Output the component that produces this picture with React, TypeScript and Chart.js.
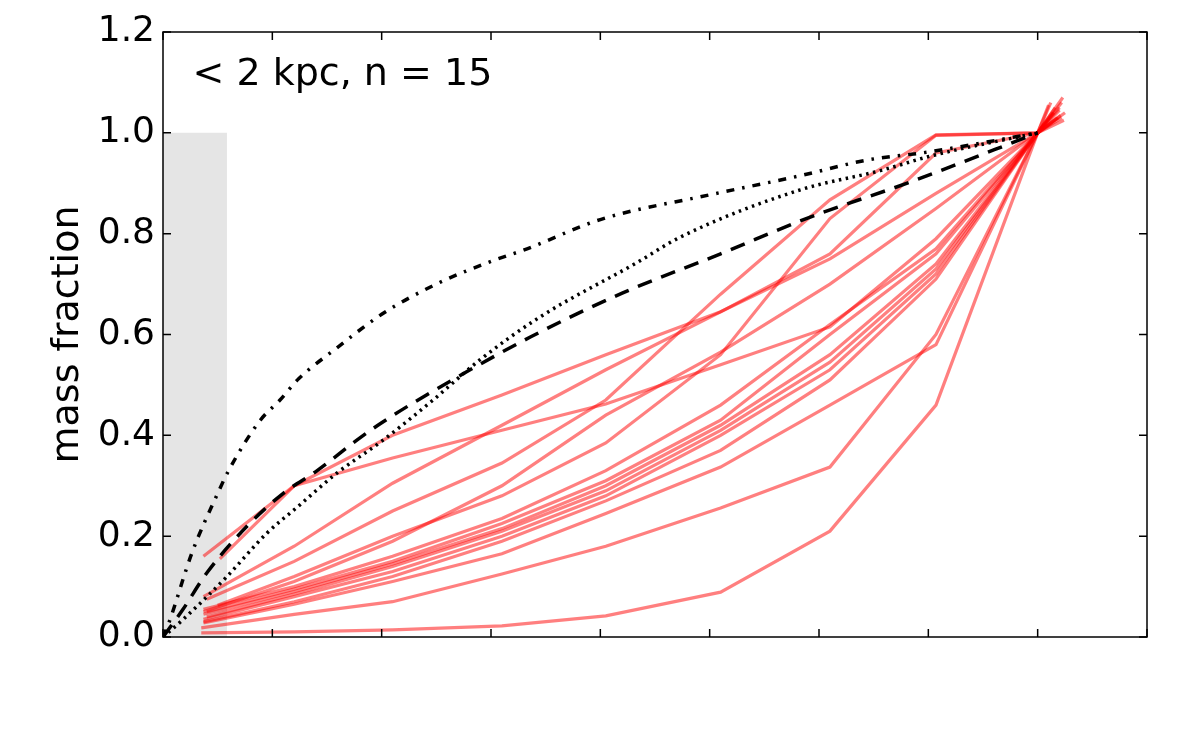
import React, { useEffect, useRef } from 'react';
import { Chart, registerables } from 'chart.js';

Chart.register(...registerables);

// axis ticks (x has ticks but no labels)
const xTicks = [0, 1, 2, 3, 4, 5, 6, 7, 8, 9];
const yTicks = [0, 0.2, 0.4, 0.6, 0.8, 1.0, 1.2];

// shaded inner region
const bandR = [0, 0.585];
const bandTop = 1.0;

// red galaxy profiles: first radius, shared inner radii, last radius
const startR = [0.37, 0.52, 0.37, 0.4, 0.5, 0.37, 0.37, 0.4, 0.37, 0.4, 0.37, 0.37, 0.37, 0.35, 0.35];
const innerR = [1.2, 2.1, 3.1, 4.05, 5.1, 6.1, 7.07, 8.0];
const endR = [8.2, 8.15, 8.23, 8.22, 8.1, 8.25, 8.18, 8.2, 8.12, 8.24, 8.16, 8.21, 8.19, 8.14, 8.22];

const massFrac: number[][] = [
    [0.16, 0.30, 0.355, 0.41, 0.462, 0.54, 0.615, 0.79, 1.0, 1.05],
    [0.155, 0.30, 0.40, 0.48, 0.56, 0.645, 0.75, 0.88, 1.0, 1.04],
    [0.08, 0.18, 0.305, 0.42, 0.53, 0.645, 0.76, 0.96, 1.0, 1.07],
    [0.075, 0.15, 0.25, 0.345, 0.47, 0.68, 0.867, 0.996, 1.0, 1.06],
    [0.063, 0.12, 0.20, 0.28, 0.385, 0.56, 0.83, 0.995, 1.0, 1.055],
    [0.05, 0.11, 0.19, 0.30, 0.44, 0.565, 0.70, 0.85, 1.0, 1.04],
    [0.055, 0.10, 0.16, 0.235, 0.33, 0.46, 0.62, 0.77, 1.0, 1.03],
    [0.05, 0.095, 0.15, 0.225, 0.31, 0.43, 0.60, 0.76, 1.0, 1.045],
    [0.045, 0.09, 0.145, 0.215, 0.30, 0.42, 0.56, 0.74, 1.0, 1.06],
    [0.04, 0.085, 0.14, 0.21, 0.29, 0.41, 0.545, 0.73, 1.0, 1.025],
    [0.035, 0.08, 0.13, 0.20, 0.28, 0.40, 0.53, 0.72, 1.0, 1.05],
    [0.03, 0.07, 0.12, 0.19, 0.27, 0.37, 0.51, 0.71, 1.0, 1.035],
    [0.028, 0.065, 0.11, 0.165, 0.245, 0.337, 0.46, 0.58, 1.0, 1.03],
    [0.018, 0.045, 0.07, 0.125, 0.18, 0.256, 0.337, 0.60, 1.0, 1.04],
    [0.008, 0.01, 0.014, 0.022, 0.042, 0.089, 0.21, 0.46, 1.0, 1.03],
];

// black model curves
const dashDotR = [0, 0.04, 0.27, 0.49, 0.6, 0.89, 1.07, 1.23, 1.6, 2.0, 2.5, 3.0, 3.33, 4.0, 5.0, 5.83, 6.44, 7.0, 8.0];
const dashDotF = [0, 0.02, 0.17, 0.28, 0.33, 0.43, 0.47, 0.51, 0.575, 0.64, 0.70, 0.745, 0.77, 0.828, 0.877, 0.915, 0.946, 0.962, 1.0];
const dashedR = [0, 0.18, 0.4, 0.77, 1.1, 1.41, 1.77, 2.0, 2.41, 3.36, 4.2, 5.1, 5.92, 6.83, 8.0];
const dashedF = [0, 0.054, 0.127, 0.22, 0.285, 0.33, 0.39, 0.425, 0.48, 0.595, 0.682, 0.76, 0.833, 0.902, 1.0];
const dottedR = [0, 0.18, 0.585, 0.95, 1.23, 1.59, 2.01, 2.47, 2.9, 3.45, 4.33, 4.73, 5.83, 6.56, 7.04, 8.0];
const dottedF = [0, 0.034, 0.12, 0.206, 0.258, 0.325, 0.39, 0.47, 0.55, 0.635, 0.742, 0.793, 0.887, 0.925, 0.955, 1.0];

const label = '< 2 kpc, n = 15';
const FONT = '"DejaVu Sans", sans-serif';

const toPoints = (xs: number[], ys: number[]) => xs.map((x, i) => ({ x, y: ys[i] }));

const framePlugin = {
    id: 'frame',
    afterDatasetsDraw(chart: any) {
        const { ctx, chartArea: a, scales } = chart;
        ctx.save();
        ctx.strokeStyle = '#000';
        ctx.lineWidth = 1.5;
        ctx.strokeRect(a.left, a.top, a.right - a.left, a.bottom - a.top);
        const len = 8;
        ctx.beginPath();
        scales.x.ticks.forEach((t: any) => {
            const px = scales.x.getPixelForValue(t.value);
            ctx.moveTo(px, a.bottom);
            ctx.lineTo(px, a.bottom - len);
            ctx.moveTo(px, a.top);
            ctx.lineTo(px, a.top + len);
        });
        scales.y.ticks.forEach((t: any) => {
            const py = scales.y.getPixelForValue(t.value);
            ctx.moveTo(a.left, py);
            ctx.lineTo(a.left + len, py);
            ctx.moveTo(a.right, py);
            ctx.lineTo(a.right - len, py);
        });
        ctx.stroke();
        ctx.fillStyle = '#000';
        ctx.font = '38px ' + FONT;
        ctx.textBaseline = 'alphabetic';
        ctx.fillText(label, a.left + 0.03 * (a.right - a.left), a.top + 53);
        ctx.restore();
    },
};

const MassFractionChart: React.FC = () => {
    const chartRef = useRef<HTMLCanvasElement>(null);
    const chartInstanceRef = useRef<Chart | null>(null);

    useEffect(() => {
        if (!chartRef.current) return;
        const ctx = chartRef.current.getContext('2d');
        if (!ctx) return;
        if (chartInstanceRef.current) chartInstanceRef.current.destroy();

        const model = (xs: number[], ys: number[], dash: number[]) => ({
            data: toPoints(xs, ys),
            showLine: true,
            borderColor: '#000',
            borderWidth: 3.5,
            borderDash: dash,
            pointRadius: 0,
            cubicInterpolationMode: 'monotone' as const,
            fill: false,
        });

        const galaxies = massFrac.map((ys, i) => ({
            data: toPoints([startR[i], ...innerR, endR[i]], ys),
            showLine: true,
            borderColor: 'rgba(255, 0, 0, 0.5)',
            borderWidth: 3.2,
            pointRadius: 0,
            tension: 0,
            fill: false,
        }));

        chartInstanceRef.current = new Chart(ctx, {
            type: 'scatter',
            data: {
                datasets: [
                    model(dashDotR, dashDotF, [8, 8, 2.5, 8]),
                    model(dashedR, dashedF, [15, 10]),
                    model(dottedR, dottedF, [2.5, 4.5]),
                    ...galaxies,
                    {
                        data: toPoints(bandR, bandR.map(() => bandTop)),
                        showLine: true,
                        borderWidth: 0,
                        borderColor: 'rgba(0,0,0,0)',
                        backgroundColor: '#e5e5e5',
                        pointRadius: 0,
                        fill: 'origin',
                    },
                ],
            },
            options: {
                responsive: false,
                animation: false,
                events: [],
                layout: { padding: { left: 0, top: 32, right: 49, bottom: 98 } },
                plugins: {
                    legend: { display: false },
                    tooltip: { enabled: false },
                },
                scales: {
                    x: {
                        type: 'linear',
                        min: 0,
                        max: 9,
                        ticks: { display: false },
                        grid: { display: false, drawTicks: false },
                        border: { display: false },
                        afterBuildTicks: (s: any) => {
                            s.ticks = xTicks.map((v) => ({ value: v }));
                        },
                        afterFit: (s: any) => {
                            s.height = 0;
                        },
                    },
                    y: {
                        type: 'linear',
                        min: 0,
                        max: 1.2,
                        ticks: {
                            color: '#000',
                            padding: 8,
                            font: { family: FONT, size: 36 },
                            callback: (v: any) => Number(v).toFixed(1),
                        },
                        grid: { display: false, drawTicks: false },
                        border: { display: false },
                        title: {
                            display: true,
                            text: 'mass fraction',
                            color: '#000',
                            font: { family: FONT, size: 38 },
                            padding: { top: 45, bottom: 0 },
                        },
                        afterBuildTicks: (s: any) => {
                            s.ticks = yTicks.map((v) => ({ value: v }));
                        },
                        afterFit: (s: any) => {
                            s.width = 163;
                        },
                    },
                },
            },
            plugins: [framePlugin],
        });

        return () => {
            if (chartInstanceRef.current) {
                chartInstanceRef.current.destroy();
                chartInstanceRef.current = null;
            }
        };
    }, []);

    return (
        <div style={{ position: 'absolute', left: 0, top: 0, width: 1196, height: 735, background: '#fff' }}>
            <canvas ref={chartRef} width={1196} height={735} style={{ display: 'block' }}></canvas>
        </div>
    );
};

export default function App() {
    return <MassFractionChart />;
}
